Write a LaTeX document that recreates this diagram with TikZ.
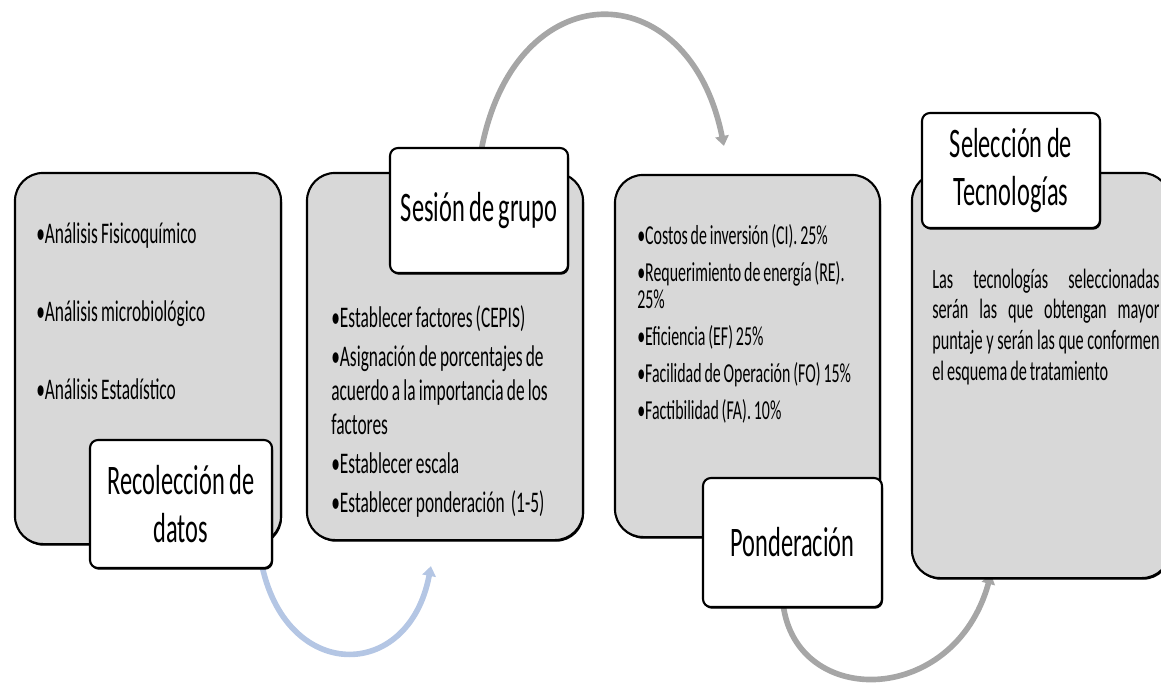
\documentclass[tikz,border=0pt]{standalone}
\usepackage{fontspec}
\setmainfont{Carlito}[FakeStretch=0.58, WordSpace=0.8]
\usetikzlibrary{arrows.meta,shadows,calc,backgrounds}

\definecolor{grisetapa}{RGB}{216,216,216}
\definecolor{grisflecha}{RGB}{166,166,166}
\definecolor{azulflecha}{RGB}{180,198,228}

\newcommand{\vineta}[1]{\par\setbox0\hbox{\textbullet}\hangindent\wd0\hangafter1\noindent\box0 #1}

\tikzset{
  etapa/.style = {fill = grisetapa, draw, line width = 1.5pt, rounded corners = 0.7cm,
    drop shadow = {fill = black, opacity = 1, shadow xshift = 0.7pt, shadow yshift = -1.2pt}},
  titulo/.style = {fill = white, draw, line width = 1.5pt, rounded corners = 0.2cm, align = center,
    font = \fontsize{29.9}{34}\selectfont,
    drop shadow = {fill = black, opacity = 1, shadow xshift = 0.7pt, shadow yshift = -1.2pt}},
  lista/.style = {anchor = base west, inner sep = 0pt, align = left,
    execute at begin node = {\spaceskip=0pt\xspaceskip=0pt}},
  flecha/.style = {->, line width = 4pt}
}

\begin{document}
\begin{tikzpicture}[x = 0.025cm, y = -0.025cm, > = {Triangle[length = 7pt, width = 9.5pt]}]
    \useasboundingbox (0,0) rectangle (1161,683);
    % etapas
    \node at (148,358.5) [etapa, minimum width = 6.65cm, minimum height = 9.275cm] (datos) {};
    \node at (445,356.5) [etapa, minimum width = 6.9cm, minimum height = 9.175cm] (grupo) {};
    \node at (747.5,356) [etapa, minimum width = 6.625cm, minimum height = 9.05cm] (pond) {};
    \node at (1041,375.5) [etapa, minimum width = 6.45cm, minimum height = 10.125cm] (selec) {};
    % contenido
    \node at (36,243) [lista, text width = 5.8cm, font = \fontsize{21.3}{55.8}\selectfont] (ldatos)
      {\textbullet Análisis Fisicoquímico\\\textbullet Análisis microbiológico\\\textbullet Análisis Estadístico};
    \node at (331,289) [lista, text width = 6cm, font = \fontsize{21.3}{24.2}\selectfont] (lgrupo)
      {\setlength{\parskip}{3.5pt}\vineta{Establecer factores (CEPIS)}\vineta{Asignación de porcentajes de\\acuerdo a la importancia de los\\factores}\vineta{Establecer escala}\vineta{Establecer ponderación\ \ (1-5)}};
    \node at (637,208) [lista, text width = 5.9cm, font = \fontsize{19.5}{19.6}\selectfont] (lpond)
      {\setlength{\parskip}{6.5pt}\vineta{Costos de inversión (CI). 25\%}\vineta{Requerimiento de energía (RE).\\25\%}\vineta{Eficiencia (EF) 25\%}\vineta{Facilidad de Operación (FO) 15\%}\vineta{Factibilidad (FA). 10\%}};
    \node at (932,288) [lista, text width = 5.68cm, align = justify, font = \fontsize{19.9}{22}\selectfont] (lselec)
      {Las tecnologías seleccionadas\linebreak serán las que obtengan mayor\linebreak puntaje y serán las que conformen\linebreak el esquema de tratamiento};
    % titulos
    \node at (181,504) [titulo, minimum width = 4.55cm, minimum height = 3.2cm] (tdatos) {Recolección de\\datos};
    \node at (479,210.5) [titulo, minimum width = 4.45cm, minimum height = 3.125cm] (tgrupo) {Sesión de grupo};
    \node at (792.5,542.5) [titulo, minimum width = 4.475cm, minimum height = 3.225cm] (tpond) {Ponderación};
    \node at (1011,170.5) [titulo, minimum width = 4.45cm, minimum height = 2.875cm] (tselec) {Selección de\\Tecnologías};
    % flechas
    \coordinate (llegada1) at ($(grupo.south west)+(125,25)$);
    \coordinate (llegada2) at ($(pond.north west)+(110,-28)$);
    \coordinate (llegada3) at ($(selec.south west)+(80,-5)$);
    \begin{scope}[on background layer]
      \draw[flecha, azulflecha] ($(tdatos.south east)+(-12,-8)$) .. controls +(23,122) and +(-22,117) .. (llegada1);
      \draw[flecha, grisflecha] ($(tgrupo.north west)+(92,5)$) .. controls +(33,-181) and +(-35,-175) .. (llegada2);
      \draw[flecha, grisflecha] ($(tpond.south)+(-10,-10)$) .. controls +(7.5,111) and +(-37,135) .. (llegada3);
    \end{scope}
\end{tikzpicture}
\end{document}
